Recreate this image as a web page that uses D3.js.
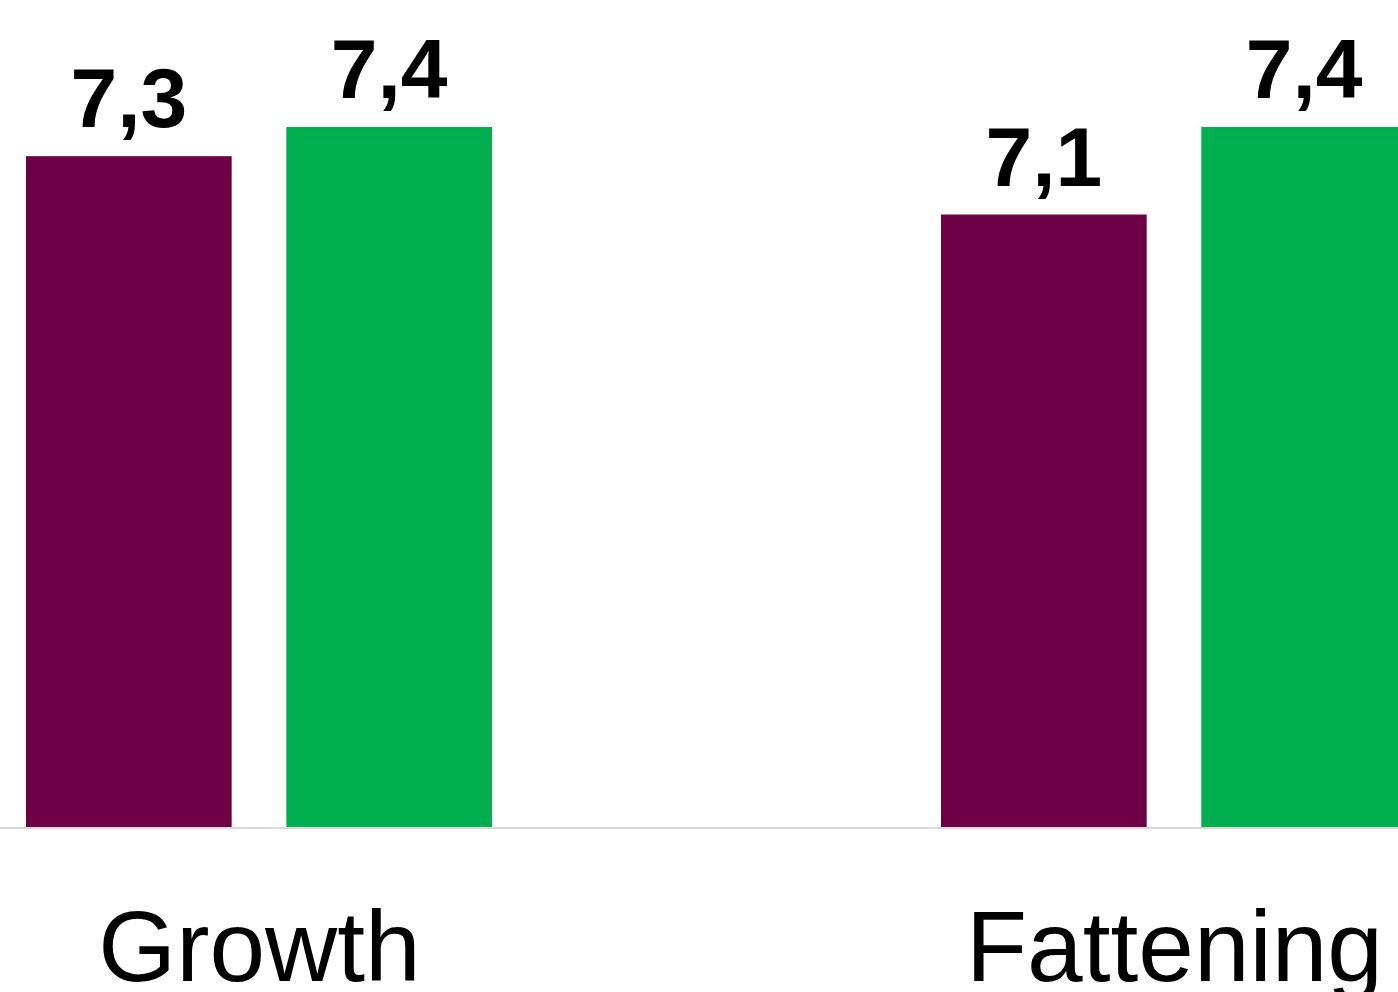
<!DOCTYPE html>
<html>
<head>
<meta charset="utf-8">
<script src="https://cdn.jsdelivr.net/npm/d3@7"></script>
<style>
  html, body { margin: 0; padding: 0; background: #fff; overflow: hidden; }
  svg { display: block; }
</style>
</head>
<body>
<svg id="chart" width="1398" height="992"></svg>
<script>
const categories = ["Growth", "Fattening"];
const seriesNames = ["Series A", "Series B"];
const seriesA = [7.3, 7.1];
const seriesB = [7.4, 7.4];
const labelsA = ["7,3", "7,1"];
const labelsB = ["7,4", "7,4"];
const colors = ["#6E0046", "#00B050"];

const rows = categories.map((c, i) => ({
  cat: c,
  vals: [
    { s: seriesNames[0], v: seriesA[i], lbl: labelsA[i] },
    { s: seriesNames[1], v: seriesB[i], lbl: labelsB[i] }
  ]
}));

const svg = d3.select("#chart");
const baseY = 827;

const y = d3.scaleLinear().domain([5, 7.4]).range([baseY, 127]);
const x0 = d3.scalePoint().domain(categories).range([259, 1174]);
const x1 = d3.scaleBand().domain(seriesNames).range([-233, 233]).paddingInner(0.21);
const color = d3.scaleOrdinal().domain(seriesNames).range(colors);

const g = svg.selectAll("g.grp").data(rows).join("g")
  .attr("class", "grp")
  .attr("transform", d => `translate(${x0(d.cat)},0)`);

g.selectAll("rect").data(d => d.vals).join("rect")
  .attr("x", d => x1(d.s))
  .attr("width", x1.bandwidth())
  .attr("y", d => y(d.v))
  .attr("height", d => baseY - y(d.v))
  .attr("fill", d => color(d.s));

g.selectAll("text.val").data(d => d.vals).join("text")
  .attr("class", "val")
  .attr("x", d => x1(d.s) + x1.bandwidth() / 2)
  .attr("y", d => y(d.v) - 29)
  .attr("text-anchor", "middle")
  .attr("font-family", "'Liberation Sans', Arial, sans-serif")
  .attr("font-weight", "bold")
  .attr("font-size", 84)
  .attr("fill", "#000")
  .text(d => d.lbl);

// baseline
svg.append("line")
  .attr("x1", 0).attr("x2", 1398)
  .attr("y1", baseY + 1).attr("y2", baseY + 1)
  .attr("stroke", "#d9d9d9").attr("stroke-width", 2);

// category axis labels
const xAxis = d3.axisBottom(x0).tickSize(0).tickPadding(0);
const ax = svg.append("g").attr("transform", `translate(0,${baseY})`).call(xAxis);
ax.select(".domain").remove();
ax.selectAll("text")
  .attr("y", 154)
  .attr("dy", 0)
  .attr("font-family", "'Liberation Sans', Arial, sans-serif")
  .attr("font-size", 100)
  .attr("fill", "#000");
</script>
</body>
</html>
